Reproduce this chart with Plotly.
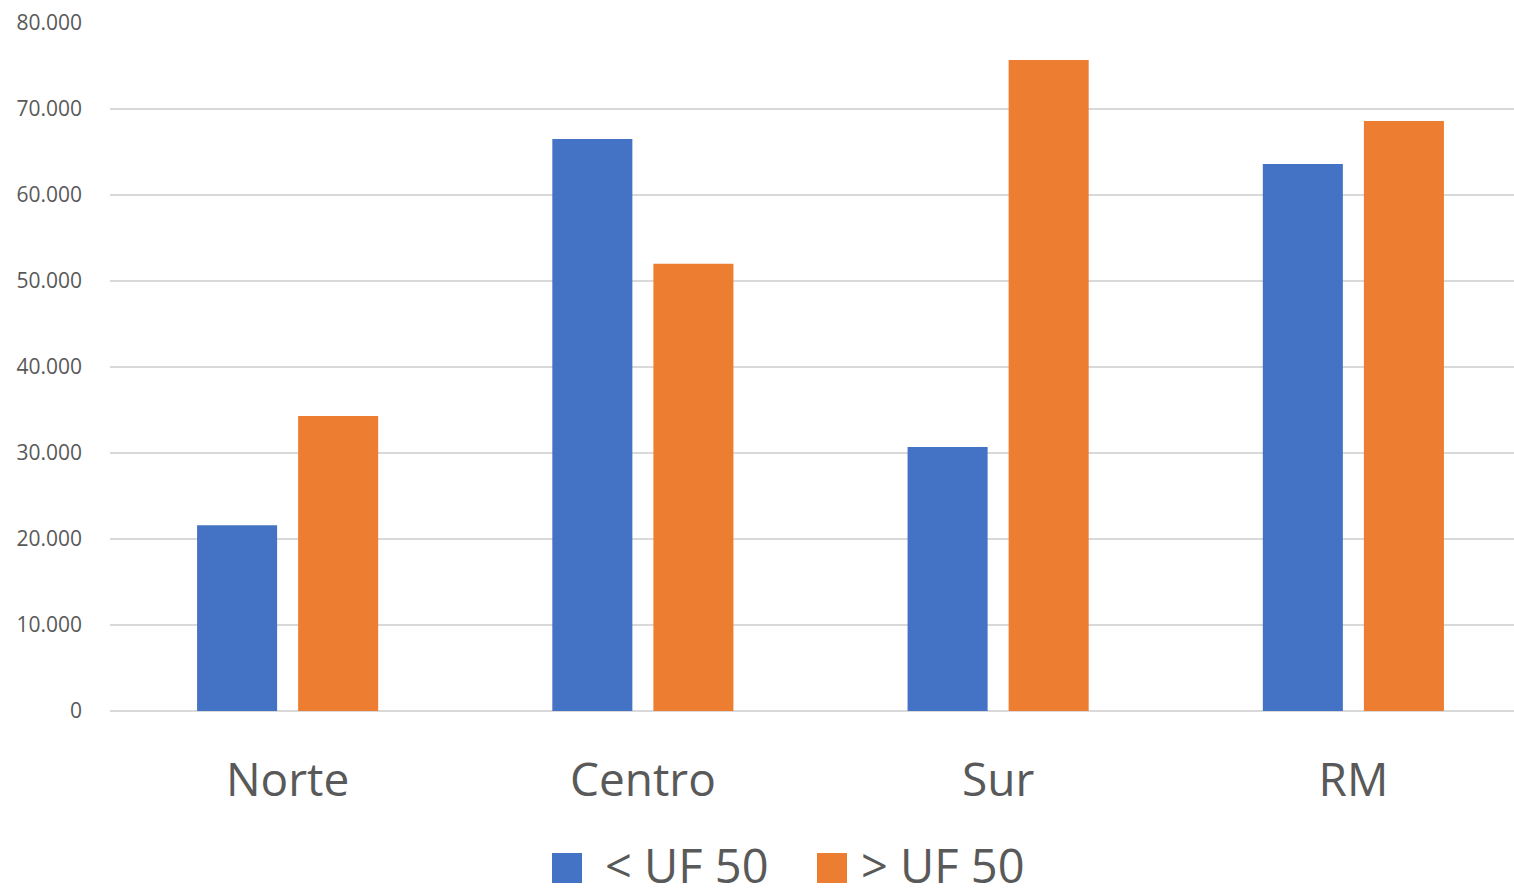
import plotly.graph_objects as go

categories = ["Norte", "Centro", "Sur", "RM"]
series_names = ["< UF 50", "> UF 50"]
below_uf50 = [21600, 66500, 30700, 63600]
above_uf50 = [34300, 52000, 75700, 68600]
y_ticks = [0, 10000, 20000, 30000, 40000, 50000, 60000, 70000, 80000]

colors = ["#4472C4", "#ED7D31"]
font_family = "Open Sans"
text_color = "#595959"

W, H = 1531, 889
ML, MR, MT, MB = 110, 0, 23, 178
PW, PH = W - ML - MR, H - MT - MB

fig = go.Figure()
for name, vals, col in zip(series_names, [below_uf50, above_uf50], colors):
    fig.add_trace(go.Bar(x=categories, y=vals, name=name, marker_color=col,
                         marker_line_width=0, showlegend=False))

fig.update_layout(
    width=W, height=H,
    margin=dict(l=ML, r=MR, t=MT, b=MB),
    paper_bgcolor="white", plot_bgcolor="white",
    barmode="group", bargap=0.431, bargroupgap=0.208,
    separators=",.",
    font=dict(family=font_family, color=text_color),
)
fig.update_yaxes(range=[0, 80000], tickvals=y_ticks, tickformat=",d",
                 showgrid=True, gridcolor="#D9D9D9", gridwidth=2,
                 zeroline=True, zerolinecolor="#D9D9D9", zerolinewidth=2,
                 showline=False, ticks="", ticklabelstandoff=27,
                 tickfont=dict(size=21, color=text_color, family=font_family))
fig.update_xaxes(showgrid=False, showline=False, ticks="",
                 ticklabelstandoff=38,
                 tickfont=dict(size=46, color=text_color, family=font_family))

# custom legend (square swatches + labels), positioned in paper space
sq_px = 30
starts = [552, 817]
text_gap = [21, 12]
for name, col, x0, g in zip(series_names, colors, starts, text_gap):
    fig.add_shape(type="rect", xref="paper", yref="paper",
                  x0=(x0 - ML) / PW, x1=(x0 + sq_px - ML) / PW,
                  y0=-(853 + sq_px - (MT + PH)) / PH, y1=-(853 - (MT + PH)) / PH,
                  fillcolor=col, line_width=0)
    fig.add_annotation(xref="paper", yref="paper",
                       x=(x0 + sq_px + g - ML) / PW,
                       y=-(865 - (MT + PH)) / PH,
                       text=name, showarrow=False, xanchor="left", yanchor="middle",
                       font=dict(size=47, color=text_color, family=font_family))

fig.write_html("out.html", config={"displayModeBar": False},
               post_script="document.body.style.margin='0';document.body.style.overflow='hidden';")
